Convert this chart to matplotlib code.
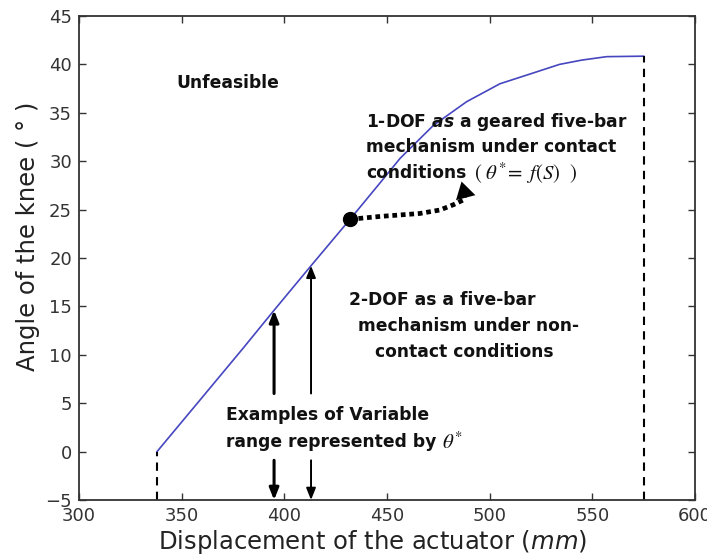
import matplotlib
matplotlib.use("Agg")
import matplotlib.pyplot as plt

plt.rcParams['font.family'] = ['DejaVu Sans']
plt.rcParams['mathtext.fontset'] = 'custom'
plt.rcParams['mathtext.rm'] = 'DejaVu Sans'
plt.rcParams['mathtext.it'] = 'DejaVu Sans:italic'
plt.rcParams['mathtext.bf'] = 'DejaVu Sans:bold'
plt.rcParams['mathtext.bfit'] = 'DejaVu Sans:italic:bold'

# Curve data: displacement (mm) vs knee angle (deg)
disp = [338, 360, 380, 395, 413, 432, 446, 456.4, 472.6, 488.8, 505, 521, 534, 545, 557, 575]
angle = [0, 5.6, 10.7, 14.6, 19.2, 24.0, 27.6, 30.3, 33.7, 36.15, 38.0, 39.1, 40.0, 40.45, 40.8, 40.85]

# Dotted transition path from contact point
trans_x = [432, 447, 466, 475.8, 482.3, 487.2, 488.0]
trans_y = [24.0, 24.3, 24.6, 24.96, 25.5, 26.0, 26.5]

# Example range arrows
example_x = [395, 413]
example_top = [14.6, 19.2]
example_lw = [2.2, 1.4]

# Boundaries
x_min_bound, x_max_bound = 338, 575

xticks = [300, 350, 400, 450, 500, 550, 600]
yticks = [-5, 0, 5, 10, 15, 20, 25, 30, 35, 40, 45]

fig = plt.figure(figsize=(7.07, 5.6), dpi=100)
ax = fig.add_axes([79/707, 1 - 500/560, (695-79)/707, (500-16)/560])

ax.plot(disp, angle, color='#4646c0', lw=1.2)

# dashed boundaries
ax.plot([x_min_bound, x_min_bound], [-5, angle[0]], ls=(0, (4, 3)), color='k', lw=1.5)
ax.plot([x_max_bound, x_max_bound], [-5, angle[-1]], ls=(0, (4, 3)), color='k', lw=1.5)

# contact point and dotted transition
ax.plot(trans_x, trans_y, ls=(0, (1.0, 0.8)), color='k', lw=3.4)
ax.plot([disp[5]], [angle[5]], 'o', color='k', ms=10)
ax.annotate('', xy=(486.3, 27.9), xytext=(488.0, 26.5),
            arrowprops=dict(arrowstyle='-|>,head_length=0.75,head_width=0.45',
                            mutation_scale=16, color='k', lw=0, shrinkA=0, shrinkB=0))

# example arrows
for x, top, lw in zip(example_x, example_top, example_lw):
    ax.annotate('', xy=(x, top), xytext=(x, 6.0),
                arrowprops=dict(arrowstyle='-|>,head_length=0.5,head_width=0.2',
                                mutation_scale=14, color='k', lw=lw, shrinkA=0, shrinkB=0))
    ax.annotate('', xy=(x, -5), xytext=(x, -0.9),
                arrowprops=dict(arrowstyle='-|>,head_length=0.5,head_width=0.2',
                                mutation_scale=14, color='k', lw=lw, shrinkA=0, shrinkB=0))

tkw = dict(fontsize=12.3, fontweight='bold', color='#111111', va='center', ha='left',
           family=['DejaVu Sans'])
ax.text(347.2, 38.1, 'Unfeasible', **tkw)
ax.text(440.0, 34.0, r'1-DOF $\mathbfit{as}$ a geared five-bar', **tkw)
ax.text(440.0, 31.5, 'mechanism under contact', **tkw)
t_cond = ax.text(440.0, 28.75, 'conditions', **tkw)
ax.annotate(r'$(\ \theta^{*}\!=\ f(S)\ \ )$', xy=(1, 0.5), xycoords=t_cond,
            xytext=(5, 0), textcoords='offset points', va='center', ha='left',
            fontsize=15, color='#111111', math_fontfamily='stix')
ax.text(431.5, 15.66, '2-DOF as a five-bar', **tkw)
ax.text(435.9, 13.0, 'mechanism under non-', **tkw)
ax.text(444.2, 10.3, 'contact conditions', **tkw)
ax.text(371.6, 3.78, 'Examples of Variable', **tkw)
t_rng = ax.text(371.6, 1.02, 'range represented by', **tkw)
ax.annotate(r'$\theta^{*}$', xy=(1, 0.5), xycoords=t_rng,
            xytext=(4, 0), textcoords='offset points', va='center', ha='left',
            fontsize=15, color='#111111', math_fontfamily='stix')

ax.set_xlim(300, 600)
ax.set_ylim(-5, 45)
ax.set_xticks(xticks)
ax.set_yticks(yticks)
ax.tick_params(direction='in', top=True, right=True, length=5, width=1,
               labelsize=13, colors='#333333', pad=5)
for s in ax.spines.values():
    s.set_linewidth(1.3)
    s.set_color('#333333')

ax.set_xlabel(r'Displacement of the actuator ($\mathit{mm}$)', fontsize=17.5, color='#222222')
ax.set_ylabel(u'Angle of the knee ( \u00b0 )', fontsize=17.5, color='#222222')
ax.xaxis.set_label_coords(0.476, -0.058)
ax.yaxis.set_label_coords(-0.063, 0.545)

fig.savefig('out.png', dpi=100)
